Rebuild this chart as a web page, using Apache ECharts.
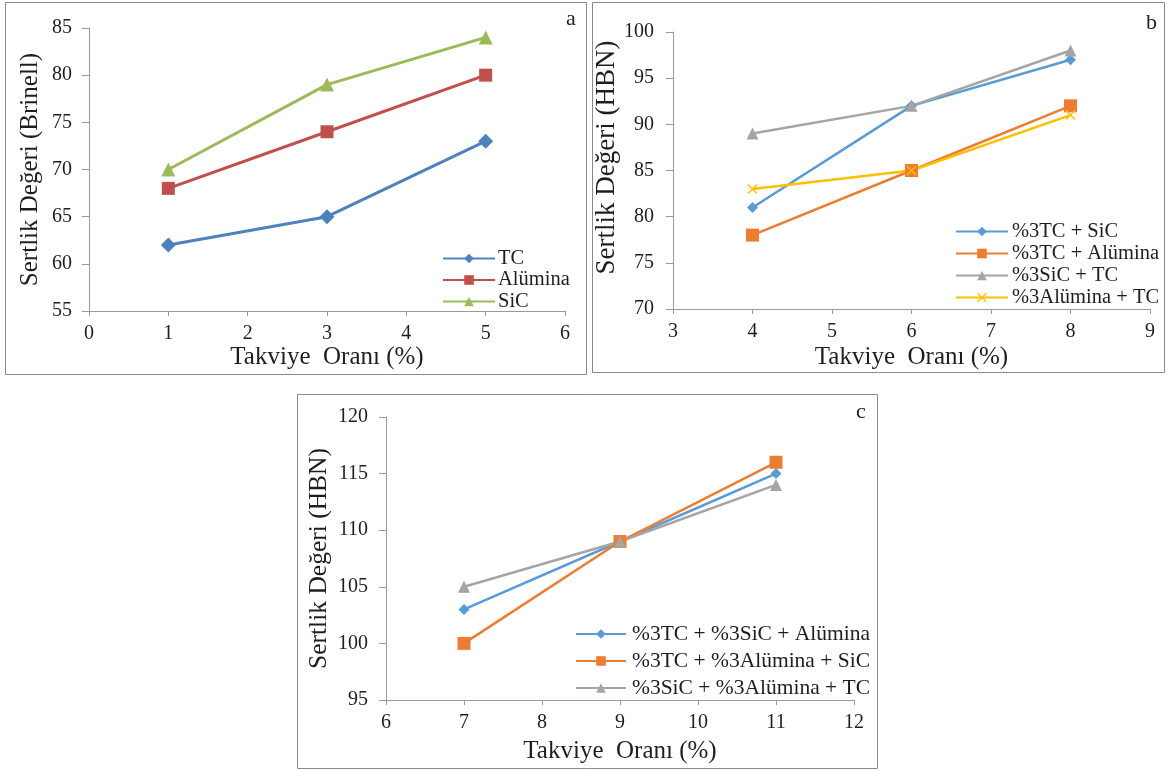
<!DOCTYPE html>
<html><head><meta charset="utf-8">
<script src="https://cdn.jsdelivr.net/npm/echarts@6/dist/echarts.min.js"></script>
<style>html,body{margin:0;padding:0;background:#fff}#c{width:1167px;height:771px}</style>
</head><body><div id="c"></div>
<script>
// Panel a
const xA = [1, 3, 5];
const aTC = [62, 65, 73];
const aAlumina = [68, 74, 80];
const aSiC = [70, 79, 84];
const namesA = ['TC', 'Alümina', 'SiC'];
// Panel b
const xB = [4, 6, 8];
const bTCSiC = [81, 92, 97];
const bTCAlumina = [78, 85, 92];
const bSiCTC = [89, 92, 98];
const bAluminaTC = [83, 85, 91];
const namesB = ['%3TC + SiC', '%3TC + Alümina', '%3SiC + TC', '%3Alümina + TC'];
// Panel c
const xC = [7, 9, 11];
const cBlue = [103, 109, 115];
const cOrange = [100, 109, 116];
const cGray = [105, 109, 114];
const namesC = ['%3TC + %3SiC + Alümina', '%3TC + %3Alümina + SiC', '%3SiC + %3Alümina + TC'];
const xTitle = 'Takviye  Oranı (%)';
const yTitleA = 'Sertlik Değeri (Brinell)';
const yTitleB = 'Sertlik Değeri (HBN)';

const FONT = '"Liberation Serif","Times New Roman",serif';
const AX = '#9a9a9a';
const TXT = '#1e1e1e';
const pair = (xs, ys) => xs.map((x, i) => [x, ys[i]]);
const X_SYM = 'path://M0,1L1,0L5,4L9,0L10,1L6,5L10,9L9,10L5,6L1,10L0,9L4,5Z';

function xAxis(gi, min, max, gap) {
  return {
    type: 'value', gridIndex: gi, min: min, max: max, interval: 1,
    name: xTitle, nameLocation: 'middle', nameGap: gap,
    nameTextStyle: { fontFamily: FONT, fontSize: 25, color: TXT },
    axisLine: { lineStyle: { color: AX, width: 1 } },
    axisTick: { show: true, length: 5, lineStyle: { color: AX } },
    axisLabel: { fontFamily: FONT, fontSize: 20, color: TXT, margin: 13 },
    splitLine: { show: false }
  };
}
function yAxis(gi, min, max, title, gap, fs, pad, lm) {
  return {
    type: 'value', gridIndex: gi, min: min, max: max, interval: 5,
    name: title, nameLocation: 'middle', nameGap: gap,
    nameTextStyle: { fontFamily: FONT, fontSize: fs, color: TXT, padding: pad },
    axisLine: { show: true, lineStyle: { color: AX, width: 1 } },
    axisTick: { show: true, length: 7, lineStyle: { color: AX } },
    axisLabel: { fontFamily: FONT, fontSize: 20, color: TXT, margin: lm },
    splitLine: { show: false }
  };
}
function line(name, gi, xs, ys, color, symbol, size, w) {
  return {
    type: 'line', name: name, xAxisIndex: gi, yAxisIndex: gi,
    data: pair(xs, ys), symbol: symbol, symbolSize: size,
    lineStyle: { color: color, width: w },
    itemStyle: { color: color },
    animation: false
  };
}
function legend(names, left, top, gap, fs, iw, tp) {
  return {
    data: names, orient: 'vertical', left: left, top: top, itemGap: gap,
    itemWidth: iw, itemHeight: 12, padding: 0,
    textStyle: { fontFamily: FONT, fontSize: fs, color: TXT, padding: [0, 0, 0, tp] },
    selectedMode: false
  };
}

const chart = echarts.init(document.getElementById('c'), null, { renderer: 'canvas' });
chart.setOption({
  backgroundColor: '#fff',
  animation: false,
  grid: [
    { left: 89, top: 28, width: 476, height: 283 },
    { left: 673, top: 32, width: 477, height: 277 },
    { left: 386, top: 417, width: 468, height: 283 }
  ],
  xAxis: [xAxis(0, 0, 6, 31), xAxis(1, 3, 9, 36), xAxis(2, 6, 12, 39)],
  yAxis: [
    yAxis(0, 55, 85, yTitleA, 46, 25, 0, 17),
    yAxis(1, 70, 100, yTitleB, 46, 27, [0, 0, 0, 26], 19),
    yAxis(2, 95, 120, yTitleB, 54, 25.5, 0, 18)
  ],
  legend: [
    legend(namesA, 442, 248, 0.5, 20.5, 52, -2),
    legend(namesB, 955, 221, 1, 20.5, 52, -1),
    legend(namesC, 575, 623, 5, 21.5, 50, 1)
  ],
  series: [
    line(namesA[0], 0, xA, aTC, '#4F81BD', 'diamond', 15, 3),
    line(namesA[1], 0, xA, aAlumina, '#C0504D', 'rect', 13, 3),
    line(namesA[2], 0, xA, aSiC, '#9BBB59', 'triangle', 14, 3),
    line(namesB[0], 1, xB, bTCSiC, '#5B9BD5', 'diamond', 11, 2.5),
    line(namesB[1], 1, xB, bTCAlumina, '#ED7D31', 'rect', 13, 2.5),
    line(namesB[2], 1, xB, bSiCTC, '#A5A5A5', 'triangle', 12, 2.5),
    line(namesB[3], 1, xB, bAluminaTC, '#FFC000', X_SYM, 10, 2.5),
    line(namesC[0], 2, xC, cBlue, '#5B9BD5', 'diamond', 11, 2.5),
    line(namesC[1], 2, xC, cOrange, '#ED7D31', 'rect', 13, 2.5),
    line(namesC[2], 2, xC, cGray, '#A5A5A5', 'triangle', 12, 2.5)
  ],
  graphic: [
    { type: 'rect', shape: { x: 5.5, y: 2.5, width: 581, height: 372 }, style: { fill: null, stroke: '#8a8a8a', lineWidth: 1 }, silent: true },
    { type: 'rect', shape: { x: 592.5, y: 2.5, width: 572, height: 370 }, style: { fill: null, stroke: '#8a8a8a', lineWidth: 1 }, silent: true },
    { type: 'rect', shape: { x: 297.5, y: 394.5, width: 580, height: 374 }, style: { fill: null, stroke: '#8a8a8a', lineWidth: 1 }, silent: true },
    { type: 'text', left: 566, top: 8, style: { text: 'a', font: '22px ' + FONT, fill: TXT } },
    { type: 'text', left: 1146, top: 12, style: { text: 'b', font: '22px ' + FONT, fill: TXT } },
    { type: 'text', left: 856, top: 401, style: { text: 'c', font: '22px ' + FONT, fill: TXT } }
  ]
});
</script></body></html>
